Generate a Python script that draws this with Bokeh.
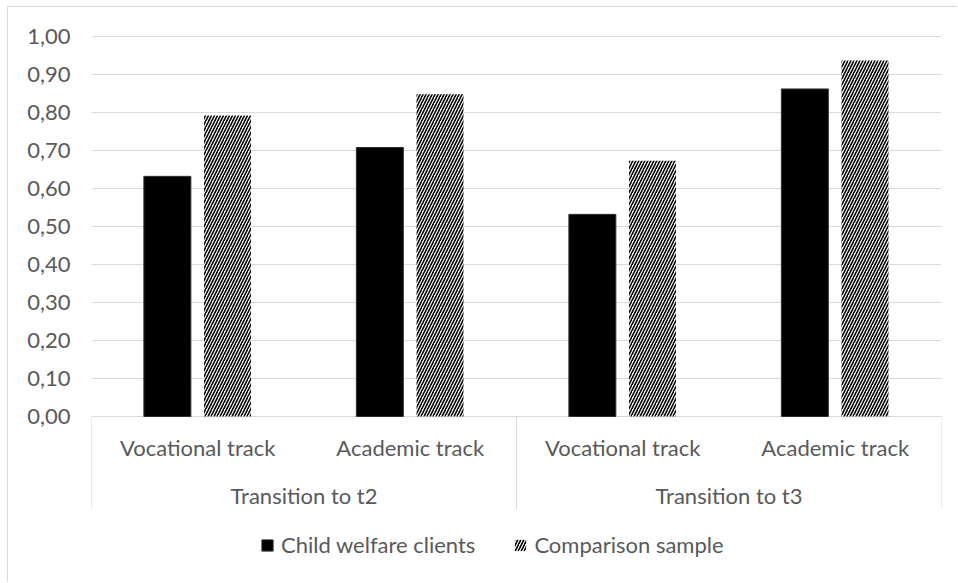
from bokeh.plotting import figure
from bokeh.models import FactorRange, Range1d, FixedTicker, ColumnDataSource, Legend, LegendItem
from bokeh.transform import dodge
from bokeh.core.properties import value
from bokeh.embed import file_html
from bokeh.resources import INLINE

# ---- data ----
groups = ["Transition to t2", "Transition to t3"]
tracks = ["Vocational track", "Academic track"]
series_names = ["Child welfare clients", "Comparison sample"]
child_welfare = [0.632, 0.708, 0.532, 0.862]
comparison = [0.792, 0.848, 0.673, 0.937]
y_ticks = [0.0, 0.1, 0.2, 0.3, 0.4, 0.5, 0.6, 0.7, 0.8, 0.9, 1.0]
y_tick_labels = ["0,00", "0,10", "0,20", "0,30", "0,40", "0,50",
                 "0,60", "0,70", "0,80", "0,90", "1,00"]

# ---- styling ----
TEXT = "#595959"
GRID = "#d9d9d9"
FONT = "Lato"
FS = "22px"

factors = [(g, t) for g in groups for t in tracks]
src = ColumnDataSource(dict(x=factors, cw=child_welfare, cmp=comparison))

x_range = FactorRange(*factors, group_padding=0, factor_padding=0, range_padding=0)
y_range = Range1d(-0.4395, 1.0053)

p = figure(width=950, height=576, x_range=x_range, y_range=y_range,
           output_backend="svg", toolbar_location=None,
           min_border_left=83, min_border_right=17, min_border_top=27, min_border_bottom=0,
           margin=(6, 0, 0, 7),
           styles={"border-top": "1px solid #d9d9d9", "border-left": "1px solid #d9d9d9"})
p.outline_line_color = None
p.background_fill_color = "white"
p.border_fill_color = "white"

r1 = p.vbar(x=dodge("x", -0.143, range=p.x_range), top="cw", width=0.221, source=src,
            fill_color="black", line_color="#303030", line_width=1)
r2 = p.vbar(x=dodge("x", 0.140, range=p.x_range), top="cmp", width=0.221, source=src,
            fill_color="white", line_color=None,
            hatch_pattern="right_diagonal_line", hatch_color="black",
            hatch_scale=6, hatch_weight=1.6)

# category labels (two levels) drawn on the categorical scale
sub_src = ColumnDataSource(dict(x=factors, t=[f[1] for f in factors]))
p.text(x="x", y=-0.0816, text="t", source=sub_src, text_align="center",
       text_baseline="middle", text_color=TEXT, text_font=value(FONT),
       text_font_size=value(FS))
grp_src = ColumnDataSource(dict(x=groups, t=groups))
p.text(x="x", y=-0.208, text="t", source=grp_src, text_align="center",
       text_baseline="middle", text_color=TEXT, text_font=value(FONT),
       text_font_size=value(FS))

# group separators
n_sub = len(tracks)
edges = [i * n_sub for i in range(len(groups) + 1)]
p.segment(x0=edges, y0=[0] * len(edges), x1=edges, y1=[-0.245] * len(edges),
          line_color=GRID, line_width=1)

# axes / grid
p.xaxis.visible = False
p.xgrid.visible = False
p.ygrid.ticker = FixedTicker(ticks=y_ticks)
p.ygrid.grid_line_color = GRID
p.ygrid.grid_line_width = 1
p.yaxis.ticker = FixedTicker(ticks=y_ticks)
p.yaxis.major_label_overrides = {t: l for t, l in zip(y_ticks, y_tick_labels)}
p.yaxis.axis_line_color = None
p.yaxis.major_tick_line_color = None
p.yaxis.minor_tick_line_color = None
p.yaxis.major_tick_out = 0
p.yaxis.major_label_standoff = 21
p.yaxis.major_label_text_color = TEXT
p.yaxis.major_label_text_font = FONT
p.yaxis.major_label_text_font_size = FS

legend = Legend(items=[LegendItem(label=series_names[0], renderers=[r1]),
                       LegendItem(label=series_names[1], renderers=[r2])],
                orientation="horizontal", location=(169, 25),
                padding=0, margin=0, spacing=38, label_standoff=7,
                glyph_width=14, glyph_height=14,
                label_text_color=TEXT, label_text_font=FONT, label_text_font_size=FS,
                border_line_color=None, background_fill_alpha=0)
p.add_layout(legend)

open("out.html", "w").write(file_html(p, INLINE))
